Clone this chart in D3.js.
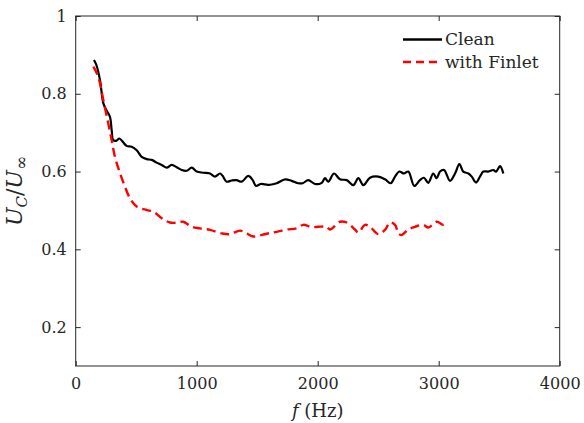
<!DOCTYPE html>
<html>
<head>
<meta charset="utf-8">
<script src="https://cdn.jsdelivr.net/npm/d3@7"></script>
<style>
  body { margin: 0; background: #fff; }
  text { font-family: "DejaVu Serif", "Liberation Serif", serif; fill: #262626; }
</style>
</head>
<body>
<div id="chart"></div>
<script>
// data
var cleanFreq = [151, 171, 201, 228, 254, 283, 297, 310, 333, 361, 388, 421, 463, 504, 545, 587, 628, 669, 711, 752,
  793, 835, 876, 917, 959, 1000, 1055, 1110, 1151, 1193, 1214, 1247, 1289, 1330, 1372, 1427, 1463, 1490, 1529, 1564,
  1606, 1661, 1730, 1785, 1840, 1876, 1922, 1978, 2033, 2060, 2088, 2135, 2184, 2240, 2294, 2336, 2377, 2432, 2501, 2556,
  2603, 2639, 2674, 2713, 2749, 2798, 2845, 2878, 2914, 2955, 2983, 3011, 3044, 3094, 3135, 3171, 3203, 3245, 3273, 3308,
  3341, 3369, 3410, 3451, 3474, 3507, 3534];
var cleanUc = [.887, .874, .835, .776, .758, .741, .707, .681, .679, .685, .677, .666, .664, .655, .638, .632, .630, .623, .617, .610,
  .617, .611, .604, .602, .610, .600, .597, .595, .587, .595, .589, .574, .577, .578, .574, .589, .578, .563, .568, .567,
  .566, .570, .580, .576, .570, .570, .578, .568, .571, .583, .574, .595, .580, .578, .565, .583, .565, .584, .587, .580,
  .570, .587, .600, .595, .600, .563, .578, .584, .571, .595, .583, .600, .604, .576, .595, .619, .600, .595, .587, .572,
  .587, .600, .600, .604, .600, .614, .595];

var finletFreq = [146, 186, 228, 269, 297, 324, 366, 407, 449, 504, 587, 641, 711, 779, 848, 889, 959, 1028, 1110, 1207,
  1275, 1358, 1413, 1468, 1537, 1606, 1661, 1744, 1826, 1881, 1950, 2005, 2074, 2102, 2184, 2240, 2308, 2336, 2391, 2432,
  2501, 2556, 2597, 2639, 2667, 2694, 2749, 2804, 2873, 2914, 2983, 3038, 3064];
var finletUc = [.870, .844, .784, .724, .681, .638, .596, .561, .531, .510, .501, .497, .480, .469, .469, .471, .458, .454, .450, .441,
  .439, .448, .441, .433, .437, .442, .445, .451, .454, .463, .457, .458, .458, .451, .471, .469, .451, .443, .463, .458,
  .439, .450, .469, .463, .441, .437, .451, .458, .463, .456, .471, .463, .465];

var xTicks = [0, 1000, 2000, 3000, 4000];
var yTicks = [0.2, 0.4, 0.6, 0.8, 1];
var seriesNames = ["Clean", "with Finlet"];

var margin = {top: 16, right: 24.3, bottom: 57, left: 75.7},
    width = 584 - margin.left - margin.right,
    height = 423 - margin.top - margin.bottom;

var svg = d3.select("#chart")
    .append("svg")
    .attr("width", 584)
    .attr("height", 423)
  .append("g")
    .attr("transform", "translate(" + margin.left + "," + margin.top + ")");

var x = d3.scaleLinear().domain([0, 4000]).range([0, width]);
var y = d3.scaleLinear().domain([0.1, 1]).range([height, 0]);

var axisColor = "#262626";

function styleAxis(g) {
  g.select(".domain").remove();
  g.selectAll(".tick line").attr("stroke", axisColor);
  g.selectAll(".tick text").style("font-size", "16px").attr("fill", axisColor);
}

// bottom + top
svg.append("g")
    .attr("transform", "translate(0," + height + ")")
    .call(d3.axisBottom(x).tickValues(xTicks).tickSizeInner(-5).tickSizeOuter(0).tickPadding(12).tickFormat(d3.format("d")))
    .call(styleAxis);
svg.append("g")
    .call(d3.axisTop(x).tickValues(xTicks).tickSizeInner(-5).tickSizeOuter(0).tickFormat(""))
    .call(styleAxis);

// left + right
svg.append("g")
    .call(d3.axisLeft(y).tickValues(yTicks).tickSizeInner(-5).tickSizeOuter(0).tickPadding(9).tickFormat(function(d) { return d === 1 ? "1" : d3.format(".1f")(d); }))
    .call(styleAxis);
svg.append("g")
    .attr("transform", "translate(" + width + ",0)")
    .call(d3.axisRight(y).tickValues(yTicks).tickSizeInner(-5).tickSizeOuter(0).tickFormat(""))
    .call(styleAxis);

svg.append("rect")
    .attr("width", width)
    .attr("height", height)
    .attr("fill", "none")
    .attr("stroke", axisColor)
    .attr("stroke-width", 1);

var line = d3.line()
    .x(function(d) { return x(d[0]); })
    .y(function(d) { return y(d[1]); })
    .curve(d3.curveCatmullRom);

svg.append("path")
    .datum(d3.zip(cleanFreq, cleanUc))
    .attr("fill", "none")
    .attr("stroke", "#000")
    .attr("stroke-width", 2.2)
    .attr("d", line);

svg.append("path")
    .datum(d3.zip(finletFreq, finletUc))
    .attr("fill", "none")
    .attr("stroke", "#ff0000")
    .attr("stroke-width", 2.4)
    .attr("stroke-dasharray", "9,5")
    .attr("d", line);

// legend
var legend = svg.append("g").attr("transform", "translate(" + (403 - margin.left) + "," + (39.5 - margin.top) + ")");
var legendStyles = [{stroke: "#000", dash: null}, {stroke: "#ff0000", dash: "8,5"}];
seriesNames.forEach(function(name, i) {
  var row = legend.append("g").attr("transform", "translate(0," + i * 22.5 + ")");
  row.append("line")
      .attr("x1", 0).attr("x2", 39)
      .attr("stroke", legendStyles[i].stroke)
      .attr("stroke-width", 2.3)
      .attr("stroke-dasharray", legendStyles[i].dash);
  row.append("text")
      .attr("x", 42)
      .attr("y", 5.5)
      .style("font-size", "17px")
      .attr("fill", "#000")
      .text(name);
});

// axis labels
var xl = svg.append("text")
    .attr("x", width / 2)
    .attr("y", height + 51)
    .attr("text-anchor", "middle")
    .style("font-size", "18px");
xl.append("tspan").style("font-style", "italic").text("f");
xl.append("tspan").text("  (Hz)");

var yl = svg.append("text")
    .attr("transform", "translate(" + (-54) + "," + (y(0.55)) + ") rotate(-90)")
    .attr("text-anchor", "middle")
    .style("font-size", "22px");
yl.append("tspan").style("font-style", "italic").text("U");
yl.append("tspan").style("font-style", "italic").style("font-size", "15px").attr("dy", 5).text("C");
yl.append("tspan").attr("dy", -5).text("/");
yl.append("tspan").style("font-style", "italic").text("U");
yl.append("tspan").style("font-size", "17px").attr("dy", 5).text("∞");
</script>
</body>
</html>
